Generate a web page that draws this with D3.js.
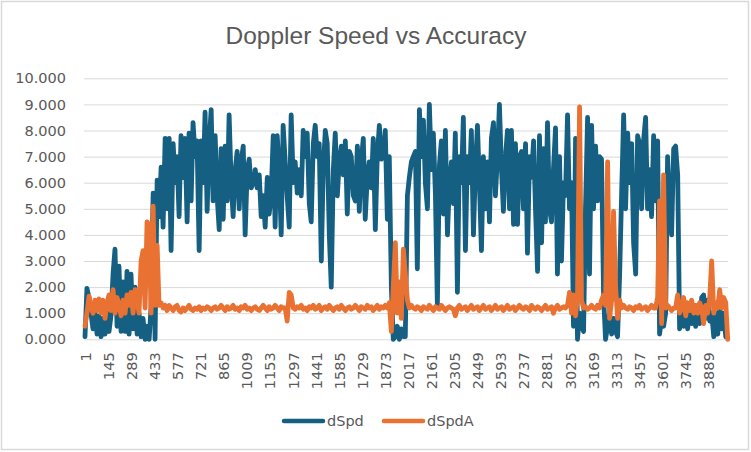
<!DOCTYPE html>
<html>
<head>
<meta charset="utf-8">
<script src="https://cdn.jsdelivr.net/npm/d3@7"></script>
<style>
  body { margin: 0; background: #fff; }
  svg { display: block; }
</style>
</head>
<body>
<div id="chart"></div>
<script>
    // categories are row numbers 1..N, labelled every 144 rows
    var N = 4010;
    var categories = d3.range(1, N + 1);
    var tickLabels = categories.filter(function (d, i) { return i % 144 === 0; });

    // values, one reading roughly every 12 rows
    var dSpd = [
	0.1, 1.95, 1.6, 1.0, 0.4,   1.0, 0.2, 0.9, 0.1, 0.8,   0.2, 1.0, 0.3, 0.9, 2.5,
	3.45, 0.5, 2.8, 0.3, 2.2,   0.3, 2.6, 0.2, 2.5, 0.4,   2.0, 0.2, 1.0, 0.1, 0.8,
	0.0, 0.5, 0.0, 1.2, 5.6,    0.0, 6.1, 4.7, 6.6, 4.3,   7.7, 5.0, 7.7, 3.4, 7.5,
	6.0, 7.0, 4.7, 7.8, 6.2,    7.7, 4.5, 7.9, 5.3, 8.3,   7.0, 7.6, 3.4, 7.6, 6.0,
	8.7, 4.9, 7.5, 8.8, 5.3,    7.8, 5.5, 4.2, 7.3, 4.6,   7.4, 5.3, 8.6, 6.0, 4.7,
	6.5, 7.2, 5.0, 6.8, 7.4,    4.0, 6.5, 6.9, 5.8, 6.0,   6.5, 5.8, 6.3, 4.7, 5.5,
	4.3, 6.2, 4.8, 5.5, 7.8,    4.3, 7.8, 6.5, 4.0, 8.2,   6.8, 5.5, 4.3, 8.6, 6.0,
	6.8, 5.6, 6.5, 5.5, 8.0,    7.0, 7.9, 5.2, 4.5, 7.5,   8.2, 7.0, 7.5, 3.0, 6.5,
	8.0, 7.5, 4.0, 2.0, 6.5,    7.9, 5.5, 6.8, 7.4, 6.3,   7.6, 4.8, 7.2, 7.0, 5.5,
	5.3, 7.4, 4.9, 6.8, 7.7,    4.6, 6.2, 6.8, 5.8, 7.7,   4.2, 7.0, 8.2, 6.9, 7.0,
	8.0, 4.6, 7.0, 2.0, 0.0,    0.1, 0.5, 0.0, 0.4, 0.1,   0.1, 5.5, 6.2, 6.8, 7.0,
	7.2, 2.7, 8.8, 7.0, 8.4,    6.0, 5.0, 9.0, 6.5, 7.9,   5.5, 1.3, 6.7, 7.6, 4.8,
	8.0, 4.0, 6.0, 6.8, 5.2,    7.9, 1.8, 7.0, 6.0, 8.5,   3.4, 7.0, 6.0, 8.0, 4.0,
	6.5, 8.2, 6.0, 3.4, 7.0,    5.0, 6.8, 4.5, 7.7, 8.3,   5.5, 7.0, 9.0, 6.5, 4.9,
	7.0, 8.0, 5.0, 8.0, 4.4,    7.5, 4.4, 7.0, 7.2, 5.0,   7.5, 3.3, 7.0, 6.2, 7.6,
	5.0, 2.6, 7.8, 3.7, 7.3,    4.5, 8.3, 5.0, 4.5, 6.5,   8.1, 2.5, 7.0, 3.0, 6.0,
	5.5, 8.6, 5.0, 6.0, 0.5,    7.7, 0.0, 1.0, 0.5, 0.3,   5.0, 8.5, 2.5, 8.2, 5.0,
	7.4, 5.3, 7.0, 6.9, 1.6,    0.0, 0.5, 1.0, 0.2, 0.8,   0.3, 0.1, 2.5, 5.5, 8.6,
	5.0, 7.9, 6.0, 7.5, 3.7,    2.5, 7.8, 7.5, 5.0, 7.6,   8.5, 5.0, 6.5, 4.7, 7.8,
	5.3, 7.6, 0.2, 0.8, 0.5,    1.0, 7.0, 5.0, 4.0, 7.3,   7.4, 6.3, 0.4, 1.2, 0.5,
	1.4, 0.4, 1.2, 0.6, 1.3,    0.5, 1.0, 0.6, 1.6, 1.7,   0.8, 1.5, 0.7, 1.0, 0.1,
	1.0, 0.2, 1.3, 0.4, 1.0,    0.1, null
    ];

    var dSpdA = [
	0.5, 1.0, 1.65, 1.2, 1.0,   1.5, 1.1, 1.55, 1.0, 1.5,  0.8, 1.4, 1.7, 1.1, 1.9,
	1.0, 1.6, 1.3, 0.9, 1.5,    1.0, 1.7, 1.3, 1.8, 1.0,   1.9, 1.5, 1.0, 3.0, 3.4,
	1.2, 4.5, 4.4, 1.0, 5.1,    1.3, 3.6, 1.3, 1.4, 1.2,   1.3, 1.1, 1.3, 1.2, 1.1,
	1.25, 1.3, 1.1, 1.05, 1.2,  1.1, 1.2, 1.3, 1.15, 1.1,  1.2, 1.15, 1.25, 1.1, 1.2,
	1.15, 1.25, 1.2, 1.1, 1.2,  1.25, 1.15, 1.2, 1.3, 1.2, 1.1, 1.25, 1.15, 1.2, 1.3,
	1.15, 1.2, 1.1, 1.25, 1.2,  1.3, 1.15, 1.2, 1.1, 1.2,  1.25, 1.15, 1.1, 1.2, 1.3,
	1.2, 1.1, 1.25, 1.15, 1.2,  1.3, 1.2, 1.1, 1.25, 1.2,  1.2, 0.7, 1.8, 1.7, 1.2,
	1.15, 1.25, 1.2, 1.3, 1.15, 1.2, 1.1, 1.25, 1.2, 1.3,  1.15, 1.2, 1.3, 1.1, 1.2,
	1.25, 1.15, 1.3, 1.2, 1.1,  1.2, 1.25, 1.15, 1.3, 1.2, 1.1, 1.2, 1.25, 1.15, 1.2,
	1.3, 1.2, 1.1, 1.25, 1.2,   1.15, 1.3, 1.2, 1.25, 1.1, 1.2, 1.3, 1.15, 1.25, 1.2,
	1.3, 1.2, 1.4, 0.3, 2.0,    3.7, 1.0, 2.2, 0.8, 3.45,  2.5, 1.5, 1.2, 1.3, 1.2,
	1.15, 1.25, 1.2, 1.1, 1.25, 1.2, 1.15, 1.3, 1.2, 1.1,  1.25, 1.2, 1.15, 1.3, 1.2,
	1.1, 1.2, 1.25, 1.2, 1.15,  0.9, 1.2, 1.3, 1.15, 1.2,  1.25, 1.1, 1.2, 1.3, 1.15,
	1.2, 1.25, 1.1, 1.2, 1.3,   1.15, 1.2, 1.25, 1.1, 1.2, 1.3, 1.15, 1.2, 1.25, 1.1,
	1.2, 1.3, 1.15, 1.2, 1.25,  1.1, 1.2, 1.3, 1.2, 1.15,  1.25, 1.2, 1.1, 1.3, 1.2,
	1.15, 1.25, 1.2, 1.1, 1.2,  1.3, 1.15, 1.2, 1.25, 1.0, 1.2, 1.3, 1.15, 1.2, 1.25,
	1.2, 1.3, 1.8, 1.0, 1.7,    0.9, 1.6, 8.9, 1.5, 1.2,   1.25, 1.15, 1.2, 1.3, 1.2,
	1.15, 1.3, 1.2, 1.5, 1.7,   1.3, 6.8, 0.8, 1.5, 4.9,   2.0, 0.8, 1.5, 1.2, 1.3,
	1.2, 1.15, 1.25, 1.2, 1.1,  1.25, 1.2, 1.3, 1.15, 1.2, 1.25, 1.1, 1.2, 1.3, 1.2,
	1.2, 1.6, 5.3, 0.6, 6.3,    1.2, 1.3, 1.2, 1.1, 1.2,   1.2, 1.7, 1.0, 1.2, 1.6,
	0.9, 1.4, 1.1, 1.5, 1.0,    1.3, 1.0, 1.4, 1.2, 0.6,   1.3, 1.0, 1.6, 3.0, 1.0,
	1.4, 1.2, 1.9, 1.2, 1.6,    1.4, 0.0
    ];

    var seriesNames = ["dSpd", "dSpdA"];
    var seriesColors = ["#156082", "#E97132"];
    var yTicks = d3.range(0, 11);

    // which row each reading belongs to
    var sampleRows = dSpd.map(function (d, i) {
	return 1 + Math.round(i * (N - 1) / (dSpd.length - 1));
    });

    var width = 751, height = 452;
    var plotLeft = 84, plotRight = 728, plotTop = 78.3, plotBottom = 339.3;
    var txtColor = "#595959";
    var gridColor = "#D9D9D9";

    var svg = d3.select("#chart")
	.append("svg")
	.attr("width", width)
	.attr("height", height);

    // chart frame
    svg.append("rect")
	.attr("x", 1.5)
	.attr("y", 1.5)
	.attr("width", width - 4)
	.attr("height", height - 4)
	.attr("fill", "#fff")
	.attr("stroke", gridColor)
	.attr("stroke-width", 1.5);

    svg.append("text")
	.attr("x", 376)
	.attr("y", 44)
	.attr("text-anchor", "middle")
	.style("font-family", "'Liberation Sans', Arial, sans-serif")
	.style("font-size", "24.5px")
	.style("fill", txtColor)
	.text("Doppler Speed vs Accuracy");

    var x = d3.scaleLinear().domain([1, N]).range([85, 727.7]);
    var y = d3.scaleLinear().domain([0, 10]).range([plotBottom, plotTop]);

    // gridlines
    svg.append("g")
	.attr("transform", "translate(" + plotLeft + ",0)")
	.call(d3.axisLeft(y).tickValues(yTicks).tickSize(-(plotRight - plotLeft)).tickFormat(""))
	.call(function (g) { g.select(".domain").remove(); })
	.selectAll("line")
	.attr("stroke", gridColor)
	.attr("stroke-width", 1);

    // y labels
    var yAxis = svg.append("g")
	.attr("transform", "translate(" + plotLeft + ",0)")
	.call(d3.axisLeft(y).tickValues(yTicks).tickSize(0).tickPadding(18).tickFormat(d3.format(".3f")));
    yAxis.select(".domain").remove();
    yAxis.selectAll("text")
	.style("font-family", "'DejaVu Sans', sans-serif")
	.style("font-size", "14.5px")
	.style("fill", txtColor);

    // x labels, rotated
    var xAxis = svg.append("g")
	.attr("transform", "translate(0," + plotBottom + ")")
	.call(d3.axisBottom(x).tickValues(tickLabels).tickSize(0).tickFormat(d3.format("d")));
    xAxis.select(".domain").remove();
    xAxis.selectAll("text")
	.attr("transform", "rotate(-90)")
	.attr("text-anchor", "end")
	.attr("x", -13)
	.attr("y", 0)
	.attr("dy", "0.36em")
	.style("font-family", "'DejaVu Sans', sans-serif")
	.style("font-size", "14.5px")
	.style("fill", txtColor);

    var line = d3.line()
	.defined(function (d) { return d[1] !== null; })
	.x(function (d) { return x(d[0]); })
	.y(function (d) { return y(d[1]); });

    [dSpd, dSpdA].forEach(function (vals, k) {
	svg.append("path")
	    .datum(vals.map(function (v, i) { return [sampleRows[i], v]; }))
	    .attr("fill", "none")
	    .attr("stroke", seriesColors[k])
	    .attr("stroke-width", 4.8)
	    .attr("stroke-linejoin", "round")
	    .attr("stroke-linecap", "round")
	    .attr("d", line);
    });

    // legend
    var legendX = [282, 382];
    var legend = svg.append("g");
    seriesNames.forEach(function (name, k) {
	legend.append("line")
	    .attr("x1", legendX[k] + 2)
	    .attr("x2", legendX[k] + 41)
	    .attr("y1", 421)
	    .attr("y2", 421)
	    .attr("stroke", seriesColors[k])
	    .attr("stroke-width", 4.5)
	    .attr("stroke-linecap", "round");
	legend.append("text")
	    .attr("x", legendX[k] + 45)
	    .attr("y", 421)
	    .attr("dy", "0.36em")
	    .style("font-family", "'DejaVu Sans', sans-serif")
	    .style("font-size", "14.5px")
	    .style("fill", txtColor)
	    .text(name);
    });
</script>
</body>
</html>
